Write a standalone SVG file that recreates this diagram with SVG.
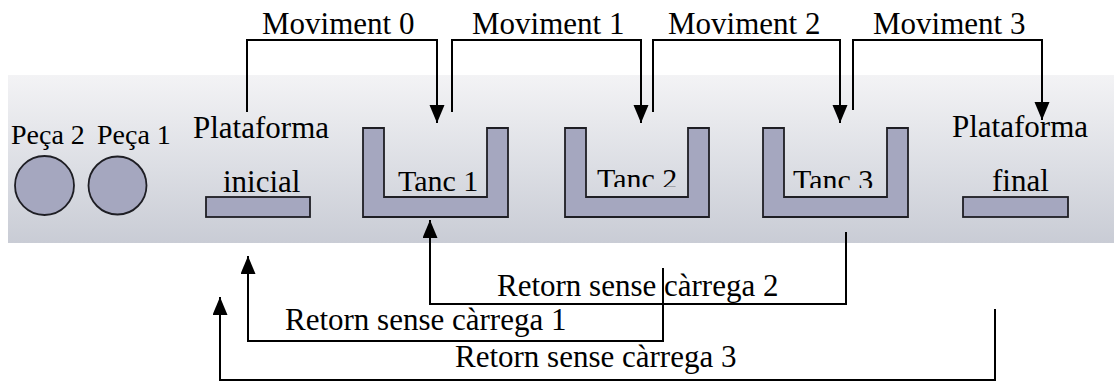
<svg xmlns="http://www.w3.org/2000/svg" width="1114" height="383" viewBox="0 0 1114 383">
<style>
.t{font-family:"Liberation Serif","Times New Roman",serif;font-size:31px;fill:#000}
.sm{font-size:28px}
.tk{font-size:30px}
.shape{fill:#a5a7bf;stroke:#1e1e24;stroke-width:1.8}
.con{fill:none;stroke:#000;stroke-width:2}
</style>
<defs>
<linearGradient id="bg" x1="0" y1="0" x2="0" y2="1">
<stop offset="0" stop-color="#f3f3f5"/>
<stop offset="0.55" stop-color="#dcdee4"/>
<stop offset="1" stop-color="#c9ccd5"/>
</linearGradient>
<marker id="ah" markerUnits="userSpaceOnUse" markerWidth="20" markerHeight="16" refX="18" refY="7.5" orient="auto">
<path d="M0,0 L18,7.5 L0,15 Z" fill="#000"/>
</marker>
<clipPath id="c2"><rect x="560" y="150" width="150" height="37"/></clipPath>
<clipPath id="c3"><rect x="760" y="150" width="150" height="38"/></clipPath>
</defs>
<rect x="8" y="75" width="1106" height="168" fill="url(#bg)"/>

<g id="peca2"><circle class="shape" cx="44.5" cy="185.5" r="29.5"/><text class="t sm" x="11" y="144">Peça 2</text></g>
<g id="peca1"><circle class="shape" cx="117.5" cy="185.5" r="29"/><text class="t sm" x="97" y="144">Peça 1</text></g>
<g id="plataforma-inicial"><rect class="shape" x="206" y="197" width="104" height="20"/><text class="t" x="193" y="138">Plataforma</text><text class="t" x="223" y="192">inicial</text></g>
<g id="tanc1"><path class="shape" d="M363,128 h21 v69 h103 v-69 h21 v89 h-145 Z"/><text class="t tk" x="398" y="191">Tanc 1</text></g>
<g id="tanc2"><path class="shape" d="M565,128 h21 v69 h102 v-69 h21 v89 h-144 Z"/><text class="t tk" x="597" y="189" clip-path="url(#c2)">Tanc 2</text></g>
<g id="tanc3"><path class="shape" d="M763,128 h21 v69 h103 v-69 h21 v89 h-145 Z"/><text class="t tk" x="793" y="190" clip-path="url(#c3)">Tanc 3</text></g>
<g id="plataforma-final"><rect class="shape" x="963" y="197" width="105" height="20"/><text class="t" x="952" y="137">Plataforma</text><text class="t" x="992" y="191">final</text></g>

<g id="connectors">
<path class="con" d="M247,112 V40 H437 V123" marker-end="url(#ah)"/>
<path class="con" d="M452,112 V40 H641 V123" marker-end="url(#ah)"/>
<path class="con" d="M653,112 V40 H840 V123" marker-end="url(#ah)"/>
<path class="con" d="M853,110 V40 H1042 V120" marker-end="url(#ah)"/>
<path class="con" d="M846,232 V304 H430 V220" marker-end="url(#ah)"/>
<path class="con" d="M663,268 V341 H248 V256" marker-end="url(#ah)"/>
<path class="con" d="M995,309 V380 H220 V297" marker-end="url(#ah)"/>
<text class="t" x="262" y="34">Moviment 0</text>
<text class="t" x="472" y="34">Moviment 1</text>
<text class="t" x="668" y="34">Moviment 2</text>
<text class="t" x="873" y="34">Moviment 3</text>
<text class="t" x="497" y="296">Retorn sense càrrega 2</text>
<text class="t" x="285" y="330">Retorn sense càrrega 1</text>
<text class="t" x="455" y="367">Retorn sense càrrega 3</text>
</g>
</svg>
